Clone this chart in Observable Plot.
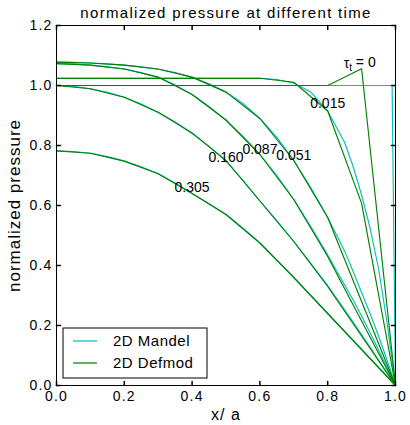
<!DOCTYPE html>
<html>
<head>
<meta charset="utf-8">
<script src="https://cdn.jsdelivr.net/npm/d3@7"></script>
<script src="https://cdn.jsdelivr.net/npm/@observablehq/plot@0.6"></script>
<style>
  html, body { margin: 0; padding: 0; background: #fff; }
  #chart svg text { font-family: "Liberation Sans", Arial, sans-serif; fill: #000; }
  g[aria-label="x-axis tick label"] text, g[aria-label="y-axis tick label"] text { letter-spacing: 1.2px; }
</style>
</head>
<body>
<div id="chart"></div>
<script>
// ---- data ----
const timeLabels = ["0", "0.015", "0.051", "0.087", "0.160", "0.305"];

// Defmod (numerical) nodes
const greenX = [0, 0.1, 0.2, 0.3, 0.4, 0.5, 0.6, 0.7, 0.8, 0.9, 1.0];
const defmod_0     = [1.0, 1.0, 1.0, 1.0, 1.0, 1.0, 1.0, 1.0, 1.0, 1.056, 0];
const defmod_0015  = [1.024, 1.024, 1.024, 1.024, 1.024, 1.024, 1.024, 1.011, 0.915, 0.607, 0];
const defmod_0051  = [1.078, 1.075, 1.068, 1.055, 1.028, 0.978, 0.89, 0.75, 0.56, 0.28, 0];
const defmod_0087  = [1.073, 1.068, 1.055, 1.028, 0.97, 0.885, 0.77, 0.62, 0.43, 0.215, 0];
const defmod_0160  = [1.0, 0.989, 0.961, 0.911, 0.842, 0.75, 0.615, 0.48, 0.33, 0.165, 0];
const defmod_0305  = [0.782, 0.774, 0.748, 0.706, 0.64, 0.57, 0.475, 0.36, 0.24, 0.12, 0];

// Mandel (analytical) samples
const mandelX0 = [0, 0.99, 1.0];
const mandel_0 = [1.0, 1.0, 0];
const cyanX = [0, 0.05, 0.1, 0.15, 0.2, 0.25, 0.3, 0.35, 0.4, 0.45, 0.5, 0.55, 0.6, 0.65, 0.7, 0.75, 0.8, 0.85, 0.875, 0.9, 0.925, 0.95, 0.975, 1.0];
const mandel_0015 = [1.024, 1.024, 1.024, 1.024, 1.024, 1.024, 1.024, 1.024, 1.024, 1.024, 1.024, 1.024, 1.024, 1.02, 1.008, 0.978, 0.915, 0.81, 0.73, 0.635, 0.525, 0.39, 0.21, 0];
const mandel_0051 = [1.078, 1.077, 1.075, 1.072, 1.068, 1.062, 1.054, 1.043, 1.027, 1.006, 0.978, 0.94, 0.89, 0.827, 0.75, 0.66, 0.56, 0.448, 0.38, 0.31, 0.24, 0.165, 0.085, 0];
const mandel_0087 = [1.073, 1.072, 1.068, 1.062, 1.055, 1.043, 1.027, 1.002, 0.97, 0.93, 0.884, 0.83, 0.77, 0.7, 0.62, 0.53, 0.435, 0.335, 0.285, 0.232, 0.176, 0.118, 0.06, 0];
const mandel_0160 = [1.0, 0.997, 0.989, 0.977, 0.961, 0.938, 0.91, 0.878, 0.84, 0.797, 0.748, 0.684, 0.615, 0.549, 0.48, 0.407, 0.333, 0.252, 0.211, 0.17, 0.128, 0.085, 0.043, 0];
const mandel_0305 = [0.782, 0.78, 0.774, 0.763, 0.748, 0.729, 0.706, 0.675, 0.64, 0.606, 0.57, 0.524, 0.475, 0.418, 0.36, 0.3, 0.24, 0.18, 0.15, 0.12, 0.09, 0.06, 0.03, 0];

// curve annotations
const annotX = [0.8, 0.7, 0.6, 0.5, 0.4];
const annotY = [0.94, 0.765, 0.785, 0.76, 0.66];
const annotText = ["0.015", "0.051", "0.087", "0.160", "0.305"];
const tauX = [0.847], tauY = [1.057];

const xTicks = [0, 0.2, 0.4, 0.6, 0.8, 1.0];
const yTicks = [0, 0.2, 0.4, 0.6, 0.8, 1.0, 1.2];

const titleText = "normalized pressure at different time";
const xLabel = "x/ a";
const yLabel = "normalized pressure";
const legendLabels = ["2D Mandel", "2D Defmod"];

const mandelColor = "#00bfbf";
const defmodColor = "#008000";

// ---- build tables ----
const mandelSeries = [
  [mandelX0, mandel_0, "0"],
  [cyanX, mandel_0015, "0.015"],
  [cyanX, mandel_0051, "0.051"],
  [cyanX, mandel_0087, "0.087"],
  [cyanX, mandel_0160, "0.160"],
  [cyanX, mandel_0305, "0.305"]
];
const defmodSeries = [
  [greenX, defmod_0, "0"],
  [greenX, defmod_0015, "0.015"],
  [greenX, defmod_0051, "0.051"],
  [greenX, defmod_0087, "0.087"],
  [greenX, defmod_0160, "0.160"],
  [greenX, defmod_0305, "0.305"]
];
const toRows = (series) => series.flatMap(([xs, ps, t]) => xs.map((x, i) => ({x, p: ps[i], t})));
const mandelRows = toRows(mandelSeries);
const defmodRows = toRows(defmodSeries);
const annots = annotText.map((s, i) => ({x: annotX[i], y: annotY[i], s}));

const tickShape = {draw(context, l) { context.moveTo(0, 0); context.lineTo(0, -l); }};

const plot = Plot.plot({
  width: 410,
  height: 425,
  marginTop: 25,
  marginRight: 15,
  marginBottom: 40,
  marginLeft: 56,
  style: {background: "#fff", color: "#000", fontFamily: "Liberation Sans, Arial, sans-serif", overflow: "visible"},
  x: {domain: [0, 1]},
  y: {domain: [0, 1.2]},
  marks: [
    Plot.line(mandelRows, {x: "x", y: "p", z: "t", stroke: mandelColor, strokeWidth: 1.15}),
    Plot.line(defmodRows, {x: "x", y: "p", z: "t", stroke: defmodColor, strokeWidth: 1.15}),
    Plot.text(annots, {x: "x", y: "y", text: "s", fontSize: 14, textAnchor: "middle", lineAnchor: "middle"}),
    Plot.text(tauX.map((x, i) => ({x, y: tauY[i]})), {x: "x", y: "y", text: () => "τt = 0", fontSize: 14, textAnchor: "start", lineAnchor: "bottom"}),
    Plot.frame({stroke: "#000", strokeWidth: 1}),
    // inward ticks on all four sides
    Plot.vector(xTicks, {x: d => d, y: 0, length: 4, rotate: 0, anchor: "start", shape: tickShape, stroke: "#000"}),
    Plot.vector(xTicks, {x: d => d, y: 1.2, length: 4, rotate: 180, anchor: "start", shape: tickShape, stroke: "#000"}),
    Plot.vector(yTicks, {x: 0, y: d => d, length: 4, rotate: 90, anchor: "start", shape: tickShape, stroke: "#000"}),
    Plot.vector(yTicks, {x: 1, y: d => d, length: 4, rotate: 270, anchor: "start", shape: tickShape, stroke: "#000"}),
    Plot.axisX({ticks: xTicks, tickSize: 0, tickPadding: 6, tickFormat: d3.format(".1f"), fontSize: 14, label: null}),
    Plot.axisY({ticks: yTicks, tickSize: 0, tickPadding: 4, tickFormat: d3.format(".1f"), fontSize: 14, label: null}),
    Plot.text([titleText], {frameAnchor: "top", dy: -8, lineAnchor: "bottom", textAnchor: "middle", fontSize: 15}),
    Plot.text([xLabel], {frameAnchor: "bottom", dy: 34, lineAnchor: "bottom", textAnchor: "middle", fontSize: 16}),
    Plot.text([yLabel], {frameAnchor: "left", dx: -42, rotate: -90, textAnchor: "middle", lineAnchor: "middle", fontSize: 17})
  ]
});

document.getElementById("chart").appendChild(plot);

// per-text tweaks (letter spacing, subscript)
d3.select(plot).selectAll("text").each(function() {
  const s = this.textContent;
  const t = d3.select(this);
  if (s === titleText) t.style("letter-spacing", "1.3px");
  else if (s === yLabel) t.style("letter-spacing", "1px");
  else if (s === xLabel) t.style("letter-spacing", "1px");
  else if (s === "τt = 0") {
    t.text(null);
    t.append("tspan").text("τ");
    t.append("tspan").attr("dy", "0.3em").attr("font-size", "10px").text("t");
    t.append("tspan").attr("dy", "-0.3em").text(" = 0");
  }
});

// legend
const sx = plot.scale("x"), sy = plot.scale("y");
const x0 = sx.apply(0), y0 = sy.apply(0);
const lg = d3.select(plot).append("g").attr("class", "legend");
lg.append("rect").attr("x", x0 + 7).attr("y", y0 - 57).attr("width", 144).attr("height", 50)
  .attr("fill", "#fff").attr("stroke", "#000").attr("stroke-width", 1);
const legendColors = [mandelColor, defmodColor];
legendLabels.forEach((label, i) => {
  const yy = y0 - 44 + i * 22;
  lg.append("line").attr("x1", x0 + 17).attr("x2", x0 + 41).attr("y1", yy).attr("y2", yy)
    .attr("stroke", legendColors[i]).attr("stroke-width", 1.2);
  lg.append("text").attr("x", x0 + 57).attr("y", yy + 5).attr("font-size", 15)
    .attr("text-anchor", "start").style("letter-spacing", "0.5px").text(label);
});
</script>
</body>
</html>
